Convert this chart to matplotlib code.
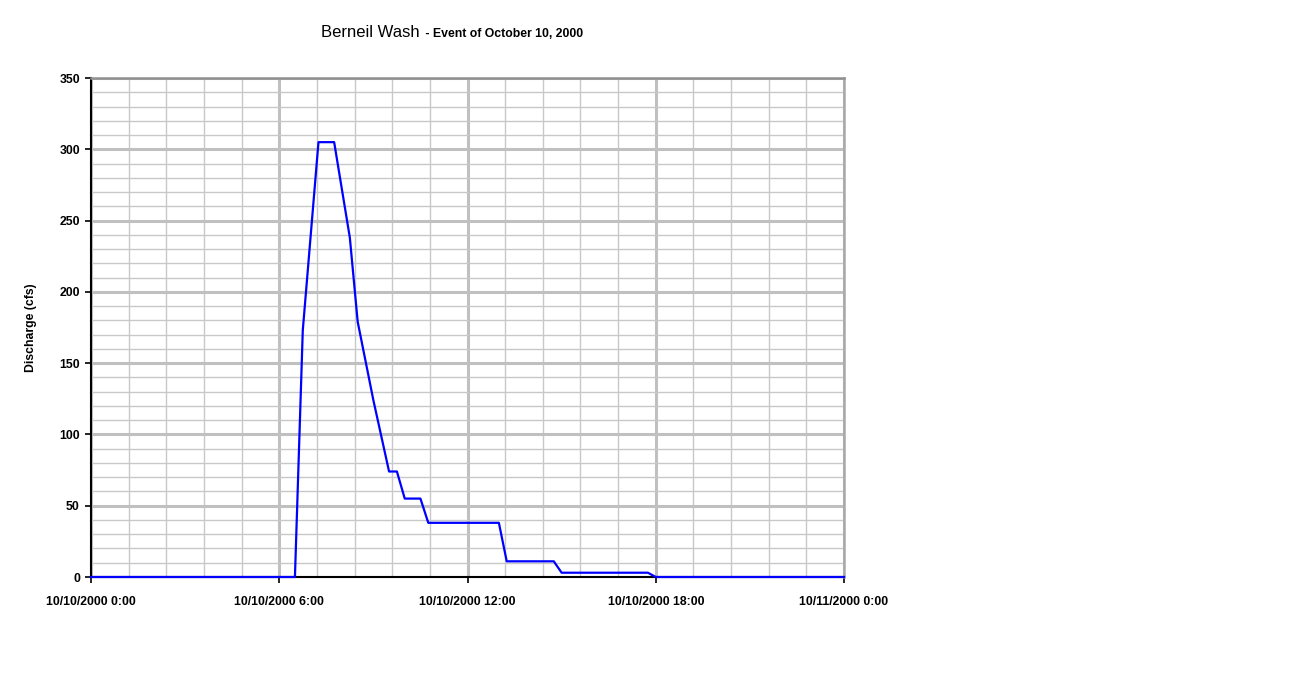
import numpy as np
import pandas as pd
import matplotlib
matplotlib.use("Agg")
import matplotlib.pyplot as plt
import matplotlib.dates as mdates

plt.rcParams.update({
    "font.family": ["Liberation Sans", "DejaVu Sans"],
    "font.size": 8.8,
})

# Discharge record, 15-minute breakpoints
times = ["2000-10-10 00:00", "2000-10-10 06:30", "2000-10-10 06:45",
         "2000-10-10 07:15", "2000-10-10 07:45", "2000-10-10 08:15",
         "2000-10-10 08:30", "2000-10-10 09:00", "2000-10-10 09:30",
         "2000-10-10 09:45", "2000-10-10 10:00", "2000-10-10 10:30",
         "2000-10-10 10:45", "2000-10-10 13:00", "2000-10-10 13:15",
         "2000-10-10 14:45", "2000-10-10 15:00", "2000-10-10 17:45",
         "2000-10-10 18:00", "2000-10-11 00:00"]
discharge = [0, 0, 173, 305, 305, 238, 179, 124, 74, 74, 55, 55,
             38, 38, 11, 11, 3, 3, 0, 0]

tick_times = ["2000-10-10 00:00", "2000-10-10 06:00", "2000-10-10 12:00",
              "2000-10-10 18:00", "2000-10-11 00:00"]
tick_labels = ["10/10/2000 0:00", "10/10/2000 6:00", "10/10/2000 12:00",
               "10/10/2000 18:00", "10/11/2000 0:00"]
y_ticks = [0, 50, 100, 150, 200, 250, 300, 350]

t = pd.to_datetime(times)
tt = pd.to_datetime(tick_times)

fig = plt.figure(figsize=(13.11, 6.94), dpi=100)
ax = fig.add_axes([91 / 1311, 1 - 577 / 694, 753 / 1311, 499 / 694])

ax.plot(t, discharge, color="#0000ff", lw=1.6, zorder=5, clip_on=False)

x0 = mdates.date2num(tt[0])
x1 = mdates.date2num(tt[-1])
ax.set_xlim(x0, x1)
ax.set_ylim(0, 350)

ax.set_xticks(mdates.date2num(tt))
ax.set_xticklabels(tick_labels, fontweight="bold")
ax.set_xticks(np.linspace(x0, x1, 21), minor=True)
ax.set_yticks(y_ticks)
ax.set_yticklabels([str(v) for v in y_ticks], fontweight="bold")
ax.set_yticks(np.arange(0, 351, 10), minor=True)

ax.grid(which="major", color="#c0c0c0", lw=2.2, zorder=0)
ax.grid(which="minor", color="#c8c8c8", lw=1.0, zorder=0)
ax.set_axisbelow(True)

ax.tick_params(which="major", direction="out", length=4, width=1.2,
               color="black", pad=10)
ax.tick_params(axis="y", which="major", pad=4)
ax.tick_params(which="minor", length=0)

for side in ("left", "bottom"):
    ax.spines[side].set_color("black")
    ax.spines[side].set_linewidth(1.5)
ax.spines["top"].set_color("#909090")
ax.spines["top"].set_linewidth(1.8)
ax.spines["right"].set_color("#a8a8a8")
ax.spines["right"].set_linewidth(1.8)

ax.set_ylabel("Discharge (cfs)", fontweight="bold", labelpad=16)

fig.text(420 / 1311, 1 - 37 / 694, "Berneil Wash", fontsize=12,
         ha="right", va="baseline")
fig.text(422 / 1311, 1 - 37 / 694, " - Event of October 10, 2000",
         fontsize=8.8, fontweight="bold", ha="left", va="baseline")

fig.savefig("out.png", dpi=100, facecolor="white")
